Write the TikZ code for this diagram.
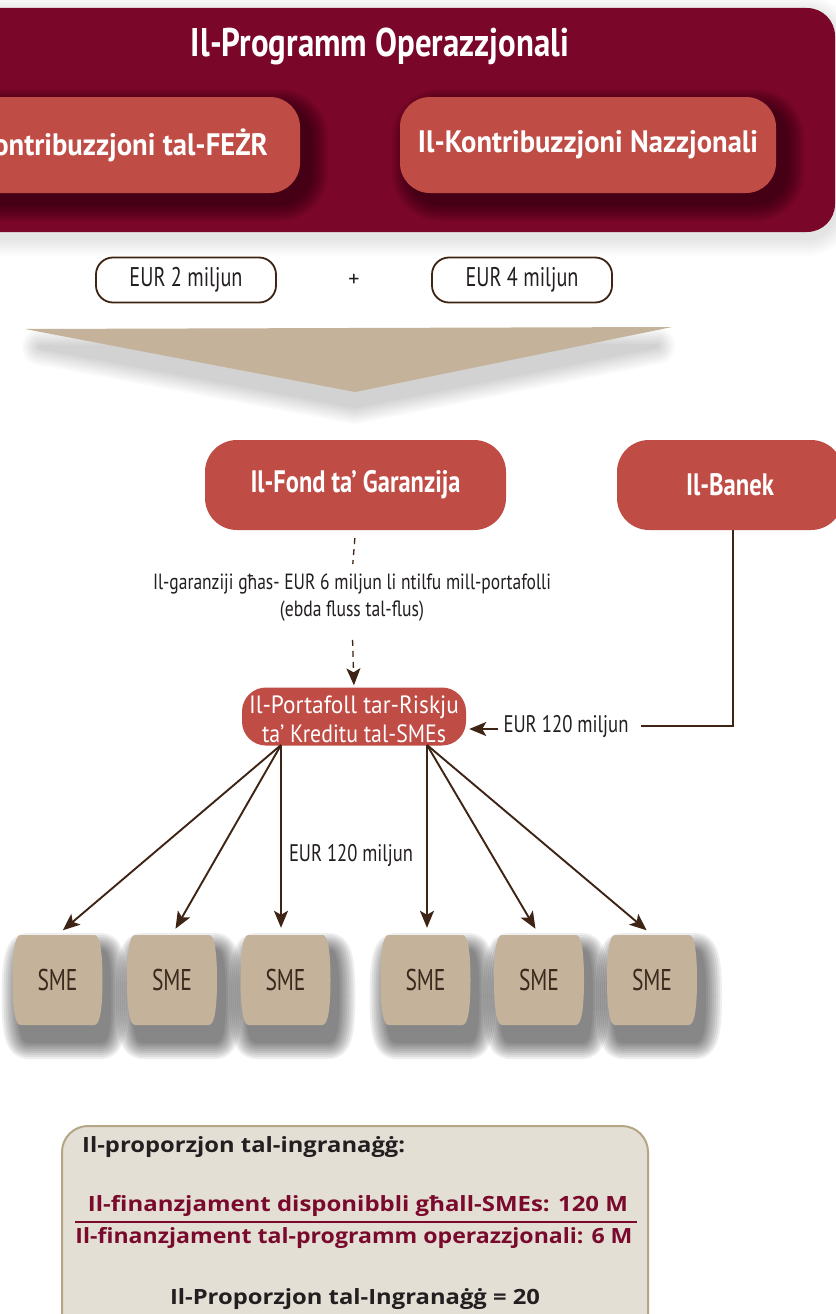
\documentclass[tikz,border=0pt]{standalone}
\usepackage{fontspec}
\setmainfont{PT Sans}
\newfontfamily\boxfont{Open Sans}
\usetikzlibrary{arrows.meta}
\definecolor{bannerc}{RGB}{122,6,41}
\definecolor{redc}{RGB}{192,76,70}
\definecolor{tanc}{RGB}{196,179,154}
\definecolor{brn}{RGB}{61,36,20}
\definecolor{ink}{RGB}{35,31,32}
\definecolor{smeink}{RGB}{58,40,28}
\definecolor{pale}{RGB}{227,223,212}
\definecolor{paleedge}{RGB}{180,165,135}
\definecolor{maroonc}{RGB}{122,10,45}
\newcommand\fw[3]{\resizebox{#2pt}{\height}{\fontsize{#1}{#1}\selectfont #3}}
% soft shadow: x shift, y shift, opacity per layer, path
\newcommand\softshadow[4]{%
  \begin{scope}[shift={(#1,#2)}]
    \foreach \w in {36,32,28,24,20,16,12,8,4}{%
      \begin{scope}[transparency group, opacity=#3]
        \filldraw[black, line width=\w pt, line join=round] #4;
      \end{scope}}
  \end{scope}}
\newcommand\barrelshape[2]{%
  \softshadow{7}{16}{0.065}{(#1-37,#2-45) -- (#1+37,#2-45) .. controls (#1+43,#2-45) and (#1+45,#2-25) .. (#1+45,#2)
    .. controls (#1+45,#2+25) and (#1+43,#2+45) .. (#1+37,#2+45) -- (#1-37,#2+45)
    .. controls (#1-43,#2+45) and (#1-45,#2+25) .. (#1-45,#2)
    .. controls (#1-45,#2-25) and (#1-43,#2-45) .. cycle}
  \fill[tanc]
    (#1-37,#2-45) -- (#1+37,#2-45) .. controls (#1+43,#2-45) and (#1+45,#2-25) .. (#1+45,#2)
    .. controls (#1+45,#2+25) and (#1+43,#2+45) .. (#1+37,#2+45) -- (#1-37,#2+45)
    .. controls (#1-43,#2+45) and (#1-45,#2+25) .. (#1-45,#2)
    .. controls (#1-45,#2-25) and (#1-43,#2-45) .. cycle;}
\begin{document}
\begin{tikzpicture}[x=1pt,y=-1pt,
  redbox/.style={fill=redc, text=white, inner sep=0pt, rounded corners=30pt},
  eurbox/.style={draw=brn, line width=1.8pt, fill=white, rounded corners=17pt, inner sep=0pt, minimum width=180pt, minimum height=45pt, text=ink},
  smenode/.style={inner sep=0pt, minimum width=86pt, minimum height=90pt, text=smeink},
  tip/.style={-{Stealth[length=17pt,width=14pt,inset=4pt]}},
  arr/.style={draw=brn, line width=1.9pt, tip},
  dsh/.style={draw=brn, line width=1.3pt, dash pattern=on 6pt off 5pt},
  lbl/.style={inner sep=0pt, text=ink}]
\useasboundingbox (0,0) rectangle (835,1314);
\fill[white] (0,0) rectangle (835,1314);

% banner
\softshadow{0}{6}{0.012}{[rounded corners=28pt] (-60,8) rectangle (835,232)}
\fill[bannerc, rounded corners=28pt] (-60,8) rectangle (835,232);
\node[text=white, inner sep=0pt] (title) at (380,46) {\fw{40}{378}{\bfseries Il-Programm Operazzjonali}};
\softshadow{10}{10}{0.055}{[rounded corners=30pt] (-82,97) rectangle (300,193)}
\softshadow{10}{10}{0.055}{[rounded corners=30pt] (400,97) rectangle (776,193)}
\node[redbox, minimum width=382pt, minimum height=96pt] (fezr) at (109,145)
  {\fw{31}{318}{\bfseries Il-Kontribuzzjoni tal-FEŻR}};
\node[redbox, minimum width=376pt, minimum height=96pt] (naz) at (588,145)
  {\fw{31}{340}{\bfseries Il-Kontribuzzjoni Nazzjonali}};

% amounts
\node[eurbox] (eur2) at (186,280) {\fw{27}{113}{EUR 2 miljun}};
\node[lbl] (plus) at (354,280) {\fontsize{22}{22}\selectfont +};
\node[eurbox] (eur4) at (522,280) {\fw{27}{113}{EUR 4 miljun}};

% funnel
\softshadow{0}{18}{0.02}{(40,329) -- (657,328) -- (355,388) -- cycle}
\fill[tanc] (25,329) -- (672,327) -- (355,392) -- cycle;

% fund and bank
\node[redbox, minimum width=301pt, minimum height=90pt, rounded corners=32pt] (fond) at (355.5,485)
  {\fw{31}{210}{\bfseries Il-Fond ta’ Garanzija}};
\node[redbox, minimum width=226pt, minimum height=90pt, rounded corners=32pt] (banek) at (730,485)
  {\fw{31}{88}{\bfseries Il-Banek}};

\node[lbl, align=center, font=\fontsize{22}{27}\selectfont] (gl) at (352,598)
  {\resizebox{398pt}{\height}{Il-garanziji għas- EUR 6 miljun li ntilfu mill-portafolli}\\
   \resizebox{144pt}{\height}{(ebda fluss tal-flus)}};

\node[redbox, minimum width=224pt, minimum height=58pt, rounded corners=24pt] (port) at (354,716.5) {};
\node[inner sep=0pt, text=white, align=center, font=\fontsize{25}{29}\selectfont] (portt) at ([yshift=-3pt]port.center)
  {\resizebox{210pt}{\height}{Il-Portafoll tar-Riskju}\\ \resizebox{184pt}{\height}{ta’ Kreditu tal-SMEs}};

\draw[dsh, shorten <=8pt, shorten >=10pt] (fond.south) -- (gl.north);
\draw[dsh, tip, shorten <=18pt, shorten >=2pt] (gl.south) -- (port.north);

\node[lbl] (bl) at (566,726) {\fw{24}{125}{EUR 120 miljun}};
\draw[draw=brn, line width=1.9pt, shorten >=12pt] (banek.south -| 733,0) |- (bl.east);
\draw[arr, shorten <=5pt, shorten >=3pt] (bl.west |- 0,729) -- (port.east |- 0,729);

% SMEs
\barrelshape{57.5}{980}
\barrelshape{172}{980}
\barrelshape{285.5}{980}
\barrelshape{425.5}{980}
\barrelshape{539}{980}
\barrelshape{652}{980}
\node[smenode] (s1) at (57.5,980) {\fw{30}{40}{SME}};
\node[smenode] (s2) at (172,980) {\fw{30}{40}{SME}};
\node[smenode] (s3) at (285.5,980) {\fw{30}{40}{SME}};
\node[smenode] (s4) at (425.5,980) {\fw{30}{40}{SME}};
\node[smenode] (s5) at (539,980) {\fw{30}{40}{SME}};
\node[smenode] (s6) at (652,980) {\fw{30}{40}{SME}};

\coordinate (pl) at (281,745);
\coordinate (pr) at (427,745);
\draw[arr, shorten >=7pt] (pl) -- (s1.north);
\draw[arr, shorten >=7pt] (pl) -- (s2.north);
\draw[arr, shorten >=7pt] (pl) -- (pl |- s3.north);
\draw[arr, shorten >=7pt] (pr) -- (pr |- s4.north);
\draw[arr, shorten >=7pt] (pr) -- (s5.north);
\draw[arr, shorten >=7pt] (pr) -- (s6.north);
\node[lbl] (ml) at (351,855) {\fw{24}{124}{EUR 120 miljun}};

% leverage box
\filldraw[fill=pale, draw=paleedge, line width=2pt, rounded corners=26pt] (62,1126) rectangle (648,1345);
\node[inner sep=0pt, anchor=west, text=ink] (lh) at (82,1147) {\fw{21}{323}{\boxfont\bfseries Il-proporzjon tal-ingranaġġ:}};
\node[inner sep=0pt, text=maroonc] (num) at (358,1206) {\fw{21}{540}{\boxfont\bfseries Il-finanzjament disponibbli għall-SMEs: 120 M}};
\node[inner sep=0pt, text=maroonc] (den) at (354,1238) {\fw{21}{557}{\boxfont\bfseries Il-finanzjament tal-programm operazzjonali: 6 M}};
\draw[maroonc, line width=1.5pt] (75,1222) -- (637,1222);
\node[inner sep=0pt, text=ink] (res) at (355,1299) {\fw{21}{370}{\boxfont\bfseries Il-Proporzjon tal-Ingranaġġ = 20}};
\end{tikzpicture}
\end{document}
